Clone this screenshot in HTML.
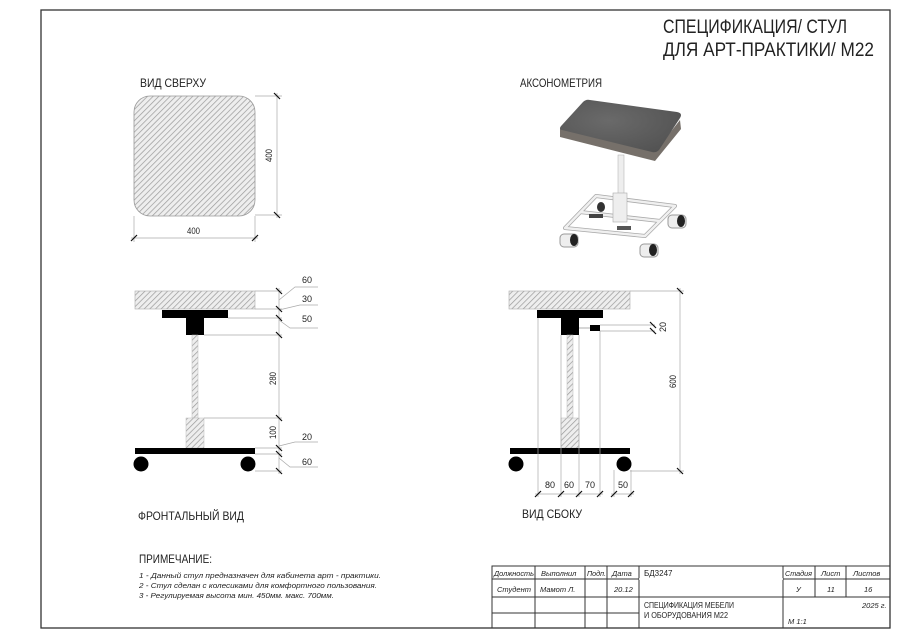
<!DOCTYPE html>
<html><head><meta charset="utf-8"><style>
html,body{margin:0;padding:0;background:#fff}
svg{display:block}
text{font-family:"Liberation Sans","DejaVu Sans Condensed",sans-serif;fill:#222}
</style></head><body>
<svg width="900" height="638" viewBox="0 0 900 638" xmlns="http://www.w3.org/2000/svg">
<defs>
<pattern id="h" width="4" height="4" patternUnits="userSpaceOnUse" patternTransform="rotate(45)">
<rect width="4" height="4" fill="#eee"/><line x1="0" y1="0" x2="0" y2="4" stroke="#999" stroke-width="1.4"/>
</pattern>
<radialGradient id="g" cx="0.4" cy="0.4" r="0.8"><stop offset="0" stop-color="#6a6a6a"/><stop offset="1" stop-color="#4f4f4f"/></radialGradient>
</defs>
<!-- frame -->
<rect x="41" y="10" width="849" height="618" fill="none" stroke="#333" stroke-width="1.3"/>
<text x="663" y="33" font-size="19" textLength="184" lengthAdjust="spacingAndGlyphs">СПЕЦИФИКАЦИЯ/ СТУЛ</text>
<text x="663" y="56" font-size="19" textLength="211" lengthAdjust="spacingAndGlyphs">ДЛЯ АРТ-ПРАКТИКИ/ М22</text>

<!-- top view -->
<text x="140" y="87" font-size="12" textLength="66" lengthAdjust="spacingAndGlyphs">ВИД СВЕРХУ</text>
<rect x="134" y="96" width="121" height="120" rx="16" fill="url(#h)" stroke="#999" stroke-width="0.8"/>
<g stroke="#aaa" stroke-width="0.7" fill="none">
<line x1="255" y1="96" x2="282" y2="96"/><line x1="255" y1="215" x2="282" y2="215"/>
<line x1="277" y1="93" x2="277" y2="218"/>
<line x1="134" y1="216" x2="134" y2="242"/><line x1="255" y1="216" x2="255" y2="242"/>
<line x1="131" y1="238" x2="258" y2="238"/>
</g>
<g stroke="#111" stroke-width="1.2">
<line x1="274" y1="93" x2="280" y2="99"/><line x1="274" y1="212" x2="280" y2="218"/>
<line x1="131" y1="241" x2="137" y2="235"/><line x1="252" y1="241" x2="258" y2="235"/>
</g>
<text font-size="9" transform="translate(272,162) rotate(-90)" textLength="13" lengthAdjust="spacingAndGlyphs">400</text>
<text x="187" y="234" font-size="9" textLength="13" lengthAdjust="spacingAndGlyphs">400</text>

<!-- axonometry -->
<text x="520" y="87" font-size="12" textLength="82" lengthAdjust="spacingAndGlyphs">АКСОНОМЕТРИЯ</text>
<g>
<!-- seat sides -->
<polygon points="560,128 655,152 680,120 681,129 655,161 560,137" fill="#76706a"/>
<!-- seat top -->
<path d="M562,125 Q558,129 562,130 L652,152 Q656,153 659,150 L680,118 Q683,113 677,112 L590,100 Q586,99 583,102 Z" fill="url(#g)"/>
<rect x="618" y="155" width="6" height="42" fill="#eee" stroke="#aaa" stroke-width="0.5"/>
<g fill="none" stroke="#aaa" stroke-width="4" stroke-linejoin="round">
<polygon points="565,228 596,196 675,206 645,236"/>
<line x1="580" y1="212" x2="660" y2="221"/>
</g>
<g fill="none" stroke="#f0f0f0" stroke-width="2.4" stroke-linejoin="round">
<polygon points="565,228 596,196 675,206 645,236"/>
<line x1="580" y1="212" x2="660" y2="221"/>
</g>
<rect x="613" y="193" width="14" height="29" fill="#eee" stroke="#aaa" stroke-width="0.6"/>
<ellipse cx="601" cy="207" rx="4" ry="5" fill="#333"/>
<rect x="589" y="214" width="14" height="4" fill="#444"/>
<rect x="617" y="226" width="14" height="4" fill="#555"/>
<rect x="560" y="234" width="18" height="13" rx="4" fill="#eee" stroke="#999"/><ellipse cx="574" cy="240" rx="4" ry="6" fill="#222"/>
<rect x="640" y="244" width="18" height="13" rx="4" fill="#eee" stroke="#999"/><ellipse cx="653" cy="250" rx="4" ry="6" fill="#222"/>
<rect x="668" y="215" width="18" height="13" rx="4" fill="#eee" stroke="#999"/><ellipse cx="681" cy="221" rx="4" ry="6" fill="#222"/>
</g>

<!-- front view -->
<g>
<rect x="135" y="291" width="120" height="18" fill="url(#h)" stroke="#aaa" stroke-width="0.6"/>
<rect x="162" y="310" width="66" height="8" fill="#000"/>
<rect x="186" y="318" width="18" height="17" fill="#000"/>
<rect x="192" y="335" width="6" height="83" fill="url(#h)" stroke="#bbb" stroke-width="0.5"/>
<rect x="186" y="418" width="18" height="30" fill="url(#h)" stroke="#bbb" stroke-width="0.5"/>
<rect x="135" y="448" width="120" height="6" fill="#000"/>
<circle cx="141" cy="464" r="7.5" fill="#000"/><circle cx="248" cy="464" r="7.5" fill="#000"/>
<g stroke="#aaa" stroke-width="0.7" fill="none">
<line x1="255" y1="291" x2="282" y2="291"/><line x1="255" y1="309" x2="282" y2="309"/>
<line x1="228" y1="318" x2="282" y2="318"/><line x1="204" y1="335" x2="282" y2="335"/>
<line x1="204" y1="418" x2="282" y2="418"/><line x1="255" y1="448" x2="282" y2="448"/>
<line x1="255" y1="454" x2="282" y2="454"/><line x1="255" y1="471" x2="282" y2="471"/>
<line x1="279" y1="288" x2="279" y2="474"/>
<polyline points="279,300 295,287 318,287"/><polyline points="279,310 300,305 318,305"/>
<polyline points="279,320 290,328 318,328"/><polyline points="279,446 295,442 318,442"/>
<polyline points="279,458 290,467 318,467"/>
</g>
<g stroke="#111" stroke-width="1.2">
<line x1="276" y1="288" x2="282" y2="294"/><line x1="276" y1="306" x2="282" y2="312"/>
<line x1="276" y1="315" x2="282" y2="321"/><line x1="276" y1="332" x2="282" y2="338"/>
<line x1="276" y1="415" x2="282" y2="421"/><line x1="276" y1="445" x2="282" y2="451"/>
<line x1="276" y1="451" x2="282" y2="457"/><line x1="276" y1="468" x2="282" y2="474"/>
</g>
<g font-size="9"><text x="302" y="283">60</text><text x="302" y="302">30</text><text x="302" y="322">50</text>
<text x="302" y="440">20</text><text x="302" y="465">60</text></g>
<text font-size="9" transform="translate(276,385) rotate(-90)" textLength="13" lengthAdjust="spacingAndGlyphs">280</text>
<text font-size="9" transform="translate(276,439) rotate(-90)" textLength="13" lengthAdjust="spacingAndGlyphs">100</text>
</g>
<text x="138" y="520" font-size="12" textLength="106" lengthAdjust="spacingAndGlyphs">ФРОНТАЛЬНЫЙ ВИД</text>

<!-- side view -->
<g>
<rect x="509" y="291" width="121" height="18" fill="url(#h)" stroke="#aaa" stroke-width="0.6"/>
<rect x="537" y="310" width="66" height="8" fill="#000"/>
<rect x="561" y="318" width="18" height="17" fill="#000"/>
<rect x="590" y="325" width="10" height="6" fill="#000"/>
<line x1="579" y1="328" x2="590" y2="328" stroke="#999" stroke-width="0.8"/>
<rect x="567" y="335" width="6" height="83" fill="url(#h)" stroke="#bbb" stroke-width="0.5"/>
<rect x="561" y="418" width="18" height="30" fill="url(#h)" stroke="#bbb" stroke-width="0.5"/>
<rect x="510" y="448" width="120" height="6" fill="#000"/>
<circle cx="516" cy="464" r="7.5" fill="#000"/><circle cx="624" cy="464" r="7.5" fill="#000"/>
<g stroke="#aaa" stroke-width="0.7" fill="none">
<line x1="630" y1="291" x2="684" y2="291"/><line x1="630" y1="471" x2="684" y2="471"/>
<line x1="680" y1="288" x2="680" y2="474"/>
<line x1="600" y1="325" x2="655" y2="325"/><line x1="600" y1="331" x2="655" y2="331"/>
<line x1="538" y1="318" x2="538" y2="497"/><line x1="561" y1="335" x2="561" y2="497"/>
<line x1="579" y1="335" x2="579" y2="497"/><line x1="600" y1="331" x2="600" y2="497"/>
<line x1="614" y1="470" x2="614" y2="497"/><line x1="631" y1="470" x2="631" y2="497"/>
<line x1="535" y1="494" x2="603" y2="494"/><line x1="611" y1="494" x2="634" y2="494"/>
</g>
<g stroke="#111" stroke-width="1.2">
<line x1="677" y1="288" x2="683" y2="294"/><line x1="677" y1="468" x2="683" y2="474"/>
<line x1="650" y1="322" x2="656" y2="328"/><line x1="650" y1="328" x2="656" y2="334"/>
<line x1="535" y1="497" x2="541" y2="491"/><line x1="558" y1="497" x2="564" y2="491"/>
<line x1="576" y1="497" x2="582" y2="491"/><line x1="597" y1="497" x2="603" y2="491"/>
<line x1="611" y1="497" x2="617" y2="491"/><line x1="628" y1="497" x2="634" y2="491"/>
</g>
<text font-size="9" transform="translate(666,332) rotate(-90)">20</text>
<text font-size="9" transform="translate(676,388) rotate(-90)" textLength="13" lengthAdjust="spacingAndGlyphs">600</text>
<g font-size="9"><text x="545" y="488">80</text><text x="564" y="488">60</text><text x="585" y="488">70</text><text x="618" y="488">50</text></g>
</g>
<text x="522" y="518" font-size="12" textLength="60" lengthAdjust="spacingAndGlyphs">ВИД СБОКУ</text>

<!-- notes -->
<text x="139" y="563" font-size="12" textLength="73" lengthAdjust="spacingAndGlyphs">ПРИМЕЧАНИЕ:</text>
<g font-size="7.3" font-style="italic">
<text x="139" y="578" textLength="242" lengthAdjust="spacingAndGlyphs">1 - Данный стул предназначен для кабинета арт - практики.</text>
<text x="139" y="588" textLength="238" lengthAdjust="spacingAndGlyphs">2 - Стул сделан с колесиками для комфортного пользования.</text>
<text x="139" y="598" textLength="195" lengthAdjust="spacingAndGlyphs">3 - Регулируемая высота мин. 450мм. макс. 700мм.</text>
</g>

<!-- title block -->
<g stroke="#333" stroke-width="1" fill="none">
<rect x="492" y="566" width="398" height="62"/>
<line x1="492" y1="579" x2="890" y2="579"/>
<line x1="492" y1="597" x2="890" y2="597"/>
<line x1="492" y1="613" x2="639" y2="613"/>
<line x1="535" y1="566" x2="535" y2="628"/><line x1="585" y1="566" x2="585" y2="628"/>
<line x1="607" y1="566" x2="607" y2="628"/><line x1="639" y1="566" x2="639" y2="628"/>
<line x1="783" y1="566" x2="783" y2="628"/>
<line x1="815" y1="566" x2="815" y2="597"/><line x1="846" y1="566" x2="846" y2="597"/>
</g>
<line x1="639" y1="579" x2="783" y2="579" stroke="#fff" stroke-width="1.5"/>
<g font-size="7.5" font-style="italic">
<text x="494" y="576" textLength="40" lengthAdjust="spacingAndGlyphs">Должность</text><text x="541" y="576">Выполнил</text><text x="587" y="576" textLength="19" lengthAdjust="spacingAndGlyphs">Подп.</text><text x="612" y="576">Дата</text>
<text x="497" y="592">Студент</text><text x="540" y="592">Мамот Л.</text><text x="614" y="592">20.12</text>
<text x="785" y="576" textLength="27" lengthAdjust="spacingAndGlyphs">Стадия</text><text x="821" y="576">Лист</text><text x="853" y="576">Листов</text>
<text x="796" y="592">У</text><text x="827" y="592">11</text><text x="864" y="592">16</text>
<text x="862" y="608">2025 г.</text><text x="788" y="624">М 1:1</text>
</g>
<g font-size="8"><text x="644" y="576">БД3247</text>
<text x="644" y="608" textLength="90" lengthAdjust="spacingAndGlyphs">СПЕЦИФИКАЦИЯ МЕБЕЛИ</text><text x="644" y="618" textLength="84" lengthAdjust="spacingAndGlyphs">И ОБОРУДОВАНИЯ М22</text></g>
</svg>
</body></html>
